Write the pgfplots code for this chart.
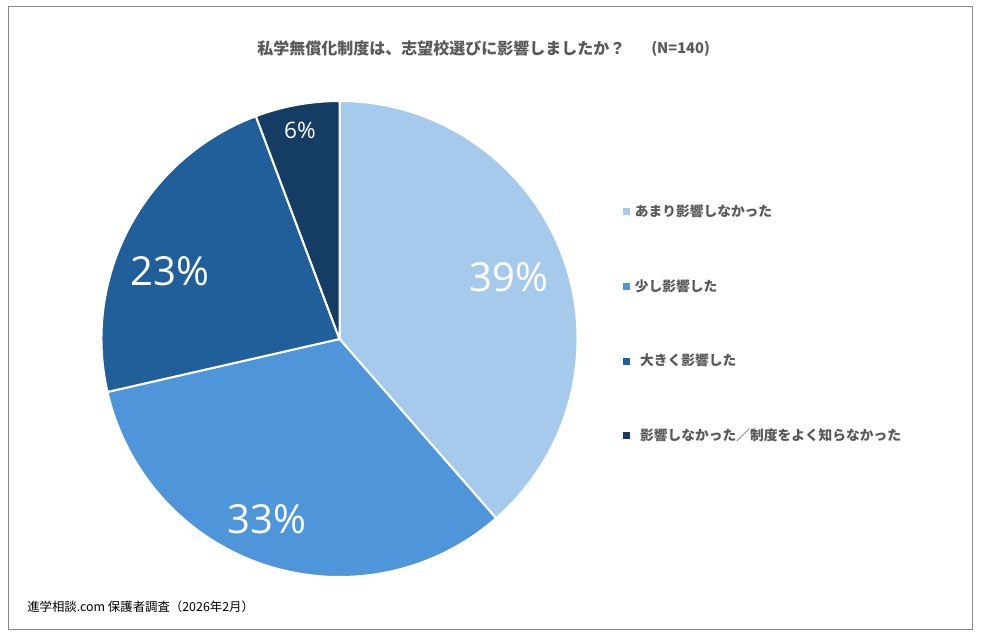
\documentclass[border=0pt]{standalone}
\usepackage{fontspec}
\setmainfont{Noto Sans CJK JP}
\newfontfamily\pctfont{Open Sans}
\usepackage{pgfplots}
\usepackage{pgfplotstable}
\pgfplotsset{compat=1.18}

\definecolor{pieA}{HTML}{A6CAEC}
\definecolor{pieB}{HTML}{4E95D9}
\definecolor{pieC}{HTML}{215F9A}
\definecolor{pieD}{HTML}{153D64}
\definecolor{txtgray}{HTML}{595959}
\definecolor{framegray}{HTML}{888888}

% answers of 140 parents
\pgfplotstableread[col sep=comma]{
label,count,col
あまり影響しなかった,54,pieA
少し影響した,46,pieB
大きく影響した,32,pieC
影響しなかった／制度をよく知らなかった,8,pieD
}\piedata

% wedge angles, clockwise from the top
\xdef\total{0}%
\foreach \i in {0,...,3}{%
  \pgfplotstablegetelem{\i}{count}\of\piedata
  \pgfmathsetmacro\t{\total+\pgfplotsretval}%
  \xdef\total{\t}}%
\xdef\cum{0}%
\gdef\piecode{}%
\foreach \i in {0,...,3}{%
  \pgfplotstablegetelem{\i}{col}\of\piedata
  \edef\c{\pgfplotsretval}%
  \pgfplotstablegetelem{\i}{count}\of\piedata
  \pgfmathsetmacro\a{90-360*(\cum/\total)}%
  \pgfmathsetmacro\newcum{\cum+\pgfplotsretval}%
  \pgfmathsetmacro\b{90-360*(\newcum/\total)}%
  \xdef\piecode{\unexpanded\expandafter{\piecode}%
    \noexpand\draw[white, line width=1.5pt, line join=round, fill=\c]
      (axis cs:339.5,339) -- ++(\a:178.5pt)
      arc[start angle=\a, end angle=\b, radius=178.5pt] -- cycle;}%
  \xdef\cum{\newcum}}%

\begin{document}
\begin{tikzpicture}
\begin{axis}[
  scale only axis,
  width=738pt, height=481.5pt,
  xmin=0, xmax=984, ymin=0, ymax=642,
  y dir=reverse,
  hide axis, clip=false,
  legend image code/.code={\path[#1] (0pt,-2.6pt) rectangle (5.2pt,2.6pt);},
  legend style={at={(axis cs:623,205)}, anchor=north west,
    draw=none, fill=none, inner sep=0pt, row sep=46pt, column sep=3.5pt,
    font=\bfseries\fontsize{10.3}{12}\selectfont, text=txtgray,
    nodes={inner sep=0pt, text height=8.5pt, text depth=1.5pt},
    legend cell align=left},
]
\fill[white] (axis cs:0,0) rectangle (axis cs:984,642);
\draw[framegray, line width=0.9pt] (axis cs:8.5,6.5) rectangle (axis cs:972.5,629.5);

\piecode

\node[white, font=\pctfont\fontsize{30}{32}\selectfont] at (axis cs:509,277) {39\%};
\node[white, font=\pctfont\fontsize{30}{32}\selectfont] at (axis cs:267,519) {33\%};
\node[white, font=\pctfont\fontsize{30}{32}\selectfont] at (axis cs:170,271) {23\%};
\node[white, font=\pctfont\fontsize{17}{19}\selectfont] at (axis cs:300,130) {6\%};

\node[anchor=west, text=txtgray, font=\bfseries\fontsize{12}{14}\selectfont, inner sep=0pt]
  at (axis cs:257,48) {私学無償化制度は、志望校選びに影響しましたか？};
\node[anchor=west, text=txtgray, font=\bfseries\fontsize{11}{13}\selectfont, inner sep=0pt]
  at (axis cs:651,49) {(N=140)};
\node[anchor=west, font=\fontsize{9.3}{11}\selectfont, inner sep=0pt]
  at (axis cs:27,607) {進学相談.com 保護者調査（2026年2月）};

\addlegendimage{fill=pieA, draw=none}
\addlegendentry{あまり影響しなかった}
\addlegendimage{fill=pieB, draw=none}
\addlegendentry{少し影響した}
\addlegendimage{fill=pieC, draw=none}
\addlegendentry{\hspace{4pt}大きく影響した}
\addlegendimage{fill=pieD, draw=none}
\addlegendentry{\hspace{4pt}影響しなかった／制度をよく知らなかった}
\end{axis}
\end{tikzpicture}
\end{document}
